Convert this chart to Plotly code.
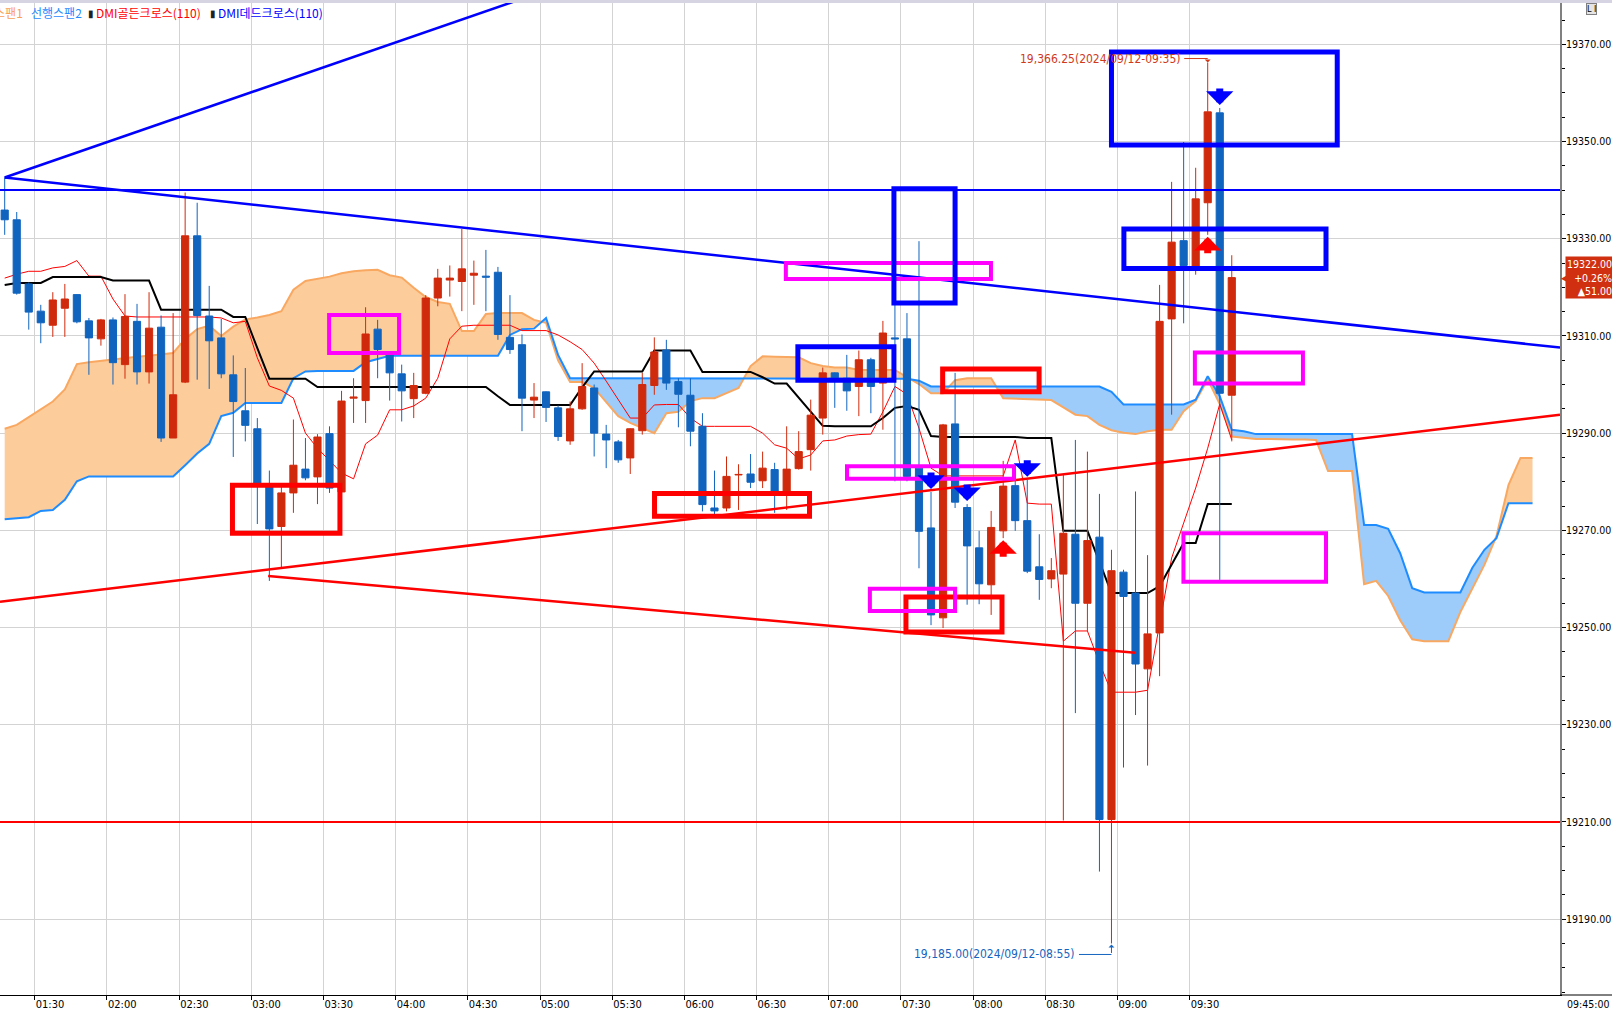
import numpy as np
import pandas as pd
import plotly.graph_objects as go

DAY = "2024-09-12"
FIRST_BAR = "01:15"
BAR_MIN = 5

# ---------------- data ----------------
opens = [19335.9, 19333.9, 19320.7, 19315.1, 19312.2, 19315.7, 19318.5, 19313.1, 19309.4, 19313.3,
         19304.1, 19313.0, 19302.6, 19311.8, 19289.0, 19300.5, 19330.6, 19314.1, 19309.6, 19302.0,
         19294.6, 19290.9, 19279.0, 19270.8, 19277.7, 19282.6, 19281.0, 19289.9, 19277.9, 19297.2,
         19296.7, 19311.4, 19306.5, 19302.2, 19297.1, 19298.2, 19317.8, 19321.5, 19321.2, 19322.5,
         19322.3, 19323.1, 19309.7, 19308.2, 19296.8, 19298.5, 19295.2, 19288.4, 19295.0, 19299.3,
         19289.8, 19288.2, 19284.9, 19290.5, 19299.8, 19307.1, 19300.6, 19297.8, 19291.4, 19274.6,
         19274.6, 19281.4, 19281.6, 19280.2, 19282.5, 19278.0, 19282.7, 19286.6, 19293.1, 19302.4,
         19301.3, 19299.6, 19305.1, 19300.3, 19309.6, 19309.4, 19282.8, 19270.5, 19252.0, 19291.9,
         19274.7, 19266.4, 19258.8, 19269.9, 19279.2, 19272.0, 19262.5, 19260.0, 19261.0, 19269.2,
         19255.0, 19268.6, 19210.5, 19261.4, 19257.1, 19241.5, 19248.9, 19313.5, 19329.6, 19324.1,
         19337.4, 19355.9, 19297.8]
highs = [19342.6, 19335.5, 19321.0, 19316.4, 19319.0, 19320.7, 19318.6, 19313.7, 19313.5, 19313.8,
         19318.6, 19316.6, 19319.0, 19314.2, 19314.7, 19339.5, 19337.4, 19320.3, 19313.5, 19306.0,
         19303.4, 19293.1, 19282.3, 19279.0, 19292.8, 19289.0, 19289.8, 19291.4, 19298.7, 19301.3,
         19315.9, 19313.3, 19306.6, 19304.1, 19302.4, 19318.4, 19323.8, 19324.5, 19332.0, 19325.5,
         19327.7, 19324.2, 19318.4, 19310.3, 19300.3, 19298.6, 19295.7, 19296.5, 19304.4, 19300.0,
         19291.7, 19288.6, 19291.0, 19302.4, 19309.7, 19309.2, 19301.3, 19301.3, 19294.1, 19282.3,
         19285.2, 19283.6, 19285.7, 19286.2, 19283.9, 19291.4, 19290.4, 19296.9, 19303.5, 19302.5,
         19306.1, 19307.0, 19305.5, 19313.1, 19316.4, 19314.7, 19329.5, 19277.9, 19291.9, 19302.4,
         19275.4, 19269.9, 19274.0, 19284.3, 19280.8, 19280.4, 19269.2, 19264.3, 19281.4, 19288.6,
         19286.2, 19277.5, 19266.0, 19261.9, 19278.0, 19264.9, 19320.5, 19341.7, 19349.9, 19344.6,
         19366.25, 19356.9, 19326.6]
lows = [19330.8, 19318.5, 19311.3, 19308.5, 19309.8, 19309.8, 19312.6, 19302.0, 19308.0, 19300.0,
        19301.2, 19300.0, 19300.2, 19288.2, 19289.0, 19300.3, 19301.0, 19299.1, 19301.3, 19285.1,
        19288.3, 19271.3, 19259.6, 19262.2, 19273.6, 19280.3, 19275.4, 19277.7, 19277.7, 19292.1,
        19292.1, 19301.3, 19296.7, 19292.4, 19293.1, 19298.0, 19316.1, 19318.1, 19315.1, 19316.4,
        19315.1, 19309.2, 19306.3, 19290.4, 19293.1, 19292.3, 19288.4, 19287.6, 19294.8, 19285.2,
        19282.8, 19283.9, 19281.6, 19289.7, 19297.9, 19298.9, 19291.2, 19287.3, 19273.9, 19273.2,
        19273.9, 19274.2, 19278.7, 19278.7, 19273.6, 19274.2, 19282.5, 19282.3, 19289.7, 19295.2,
        19294.6, 19293.5, 19294.1, 19290.7, 19280.1, 19280.1, 19262.2, 19250.5, 19249.9, 19274.6,
        19254.7, 19254.8, 19252.6, 19268.4, 19269.9, 19261.2, 19255.7, 19258.1, 19210.3, 19232.4,
        19249.3, 19199.8, 19185.0, 19221.2, 19232.0, 19221.6, 19240.0, 19293.8, 19312.6, 19322.6,
        19330.8, 19259.8, 19288.3]
closes = [19333.9, 19318.8, 19314.9, 19312.7, 19317.4, 19317.6, 19312.9, 19309.6, 19313.3, 19304.5,
          19314.0, 19302.6, 19311.6, 19289.0, 19297.9, 19330.6, 19314.2, 19309.0, 19302.2, 19296.5,
          19291.6, 19279.7, 19270.3, 19277.7, 19283.4, 19280.8, 19289.2, 19278.7, 19296.6, 19297.4,
          19310.4, 19307.2, 19302.4, 19298.7, 19299.8, 19317.8, 19321.9, 19321.9, 19323.8, 19322.9,
          19322.1, 19310.3, 19307.2, 19297.2, 19297.4, 19295.3, 19289.3, 19295.0, 19299.6, 19290.0,
          19288.6, 19284.5, 19290.9, 19300.0, 19306.7, 19300.3, 19298.0, 19290.4, 19275.3, 19274.0,
          19281.1, 19281.5, 19279.9, 19282.8, 19278.0, 19282.6, 19286.2, 19293.7, 19302.4, 19300.7,
          19298.7, 19305.1, 19299.6, 19310.6, 19309.4, 19281.1, 19269.8, 19252.6, 19291.7, 19275.8,
          19266.8, 19259.0, 19270.6, 19279.1, 19272.0, 19261.6, 19259.9, 19261.7, 19269.4, 19255.0,
          19267.9, 19210.5, 19261.7, 19256.4, 19242.5, 19248.7, 19313.0, 19329.3, 19324.5, 19338.2,
          19356.1, 19298.2, 19322.0]

tenkan = [19321.9, 19322.7, 19323.3, 19323.3, 19324.0, 19324.3, 19325.5, 19322.3, 19322.3, 19317.6,
          19314.1, 19313.9, 19313.9, 19313.9, 19313.9, 19313.9, 19313.9, 19313.9, 19313.7, 19312.7,
          19313.0, 19305.5, 19299.7, 19298.8, 19297.2, 19290.0, 19286.9, 19284.3, 19281.8, 19280.6,
          19287.8, 19289.6, 19294.8, 19294.8, 19295.6, 19297.2, 19301.3, 19309.4, 19312.0, 19312.2,
          19312.2, 19312.2, 19312.2, 19311.1, 19311.1, 19311.1, 19310.2, 19308.8, 19307.2, 19304.4,
          19300.7, 19297.0, 19293.1, 19293.1, 19295.8, 19295.9, 19295.9, 19293.1, 19291.4, 19291.4,
          19291.4, 19291.4, 19291.4, 19290.0, 19287.6, 19286.9, 19284.7, 19285.5, 19288.4, 19288.6,
          19289.4, 19289.7, 19289.8, 19294.4, 19299.6, 19298.0, 19291.0, 19282.8, 19281.2, 19281.2,
          19281.2, 19281.2, 19281.2, 19281.2, 19288.6, 19275.6, 19275.4, 19275.4, 19247.2, 19249.3,
          19249.3, 19242.7, 19236.7, 19236.7, 19236.7, 19237.1, 19251.0, 19264.3, 19271.5, 19278.7,
          19286.9, 19296.0, 19288.6]
kijun = [19320.5, 19320.9, 19320.9, 19320.9, 19322.1, 19322.1, 19322.1, 19322.1, 19322.1, 19321.4,
         19321.4, 19321.4, 19321.4, 19315.4, 19315.4, 19315.4, 19315.4, 19315.4, 19315.4, 19313.9,
         19313.9, 19307.5, 19301.2, 19301.2, 19301.2, 19301.2, 19299.5, 19299.5, 19299.5, 19299.5,
         19299.5, 19299.5, 19299.5, 19299.5, 19299.5, 19299.5, 19299.5, 19299.5, 19299.5, 19299.5,
         19299.5, 19297.6, 19295.8, 19295.8, 19295.8, 19295.8, 19295.8, 19295.8, 19299.4, 19302.7,
         19302.7, 19302.7, 19302.7, 19302.7, 19307.0, 19307.0, 19307.0, 19307.0, 19302.6, 19302.6,
         19302.6, 19302.6, 19302.6, 19301.5, 19300.2, 19300.2, 19297.3, 19294.4, 19291.5, 19291.4,
         19291.4, 19291.4, 19291.4, 19293.1, 19295.2, 19295.6, 19294.8, 19289.4, 19289.2, 19289.2,
         19289.2, 19289.2, 19289.2, 19289.2, 19289.2, 19289.0, 19289.0, 19289.0, 19269.9, 19269.9,
         19269.9, 19263.5, 19257.1, 19257.1, 19257.1, 19257.1, 19258.5, 19263.1, 19267.4, 19267.4,
         19275.4, 19275.4, 19275.4]
span1 = [19290.9, 19291.7, 19293.3, 19294.9, 19296.5, 19299.0, 19304.2, 19304.6, 19304.9, 19305.1,
         19305.5, 19305.7, 19305.9, 19306.2, 19306.5, 19309.4, 19311.4, 19312.1, 19310.0, 19311.9,
         19313.4, 19313.8, 19314.3, 19315.1, 19319.5, 19321.3, 19321.8, 19322.2, 19322.9, 19323.3,
         19323.5, 19323.6, 19322.5, 19322.0, 19319.9, 19318.0, 19317.0, 19316.6, 19311.0, 19311.0,
         19314.5, 19314.7, 19314.7, 19314.7, 19313.3, 19312.7, 19305.0, 19300.5, 19300.5, 19299.3,
         19296.4, 19293.5, 19292.1, 19291.0, 19290.0, 19294.1, 19294.4, 19296.6, 19297.2, 19297.2,
         19298.2, 19299.3, 19303.8, 19305.8, 19305.7, 19305.7, 19305.6, 19304.4, 19303.8, 19303.5,
         19303.5, 19303.0, 19303.0, 19303.0, 19303.0, 19301.5, 19300.1, 19298.2, 19298.2, 19300.9,
         19301.3, 19301.3, 19301.3, 19297.2, 19297.1, 19297.0, 19296.9, 19296.8, 19295.3, 19293.8,
         19293.5, 19291.7, 19290.6, 19290.1, 19289.8, 19290.4, 19290.7, 19290.7, 19294.5, 19296.6,
         19301.1, 19296.0, 19289.3, 19289.0, 19288.8, 19288.8, 19288.7, 19288.7, 19288.7, 19288.6,
         19282.2, 19282.2, 19282.2, 19258.9, 19259.6, 19256.5, 19251.5, 19247.6, 19247.2, 19247.2,
         19247.2, 19253.2, 19258.1, 19262.9, 19268.8, 19279.3, 19284.9, 19284.9]
span2 = [19272.3, 19272.5, 19272.7, 19274.0, 19274.2, 19276.3, 19280.1, 19281.1, 19281.1, 19281.1,
         19281.1, 19281.1, 19281.1, 19281.1, 19281.1, 19283.4, 19285.8, 19287.8, 19293.5, 19294.2,
         19296.2, 19296.2, 19296.2, 19296.2, 19301.3, 19302.7, 19302.8, 19302.8, 19302.8, 19302.8,
         19304.6, 19305.2, 19305.9, 19305.9, 19305.9, 19305.9, 19305.9, 19305.9, 19305.9, 19305.9,
         19305.9, 19305.9, 19310.2, 19311.4, 19311.5, 19313.7, 19306.1, 19301.3, 19301.3, 19301.3,
         19301.3, 19301.3, 19301.3, 19301.3, 19301.3, 19301.3, 19301.3, 19301.3, 19301.3, 19301.3,
         19301.3, 19301.3, 19301.3, 19301.3, 19301.3, 19301.3, 19301.3, 19301.3, 19301.3, 19301.3,
         19301.3, 19301.3, 19301.3, 19301.3, 19301.3, 19301.2, 19300.8, 19299.6, 19299.6, 19299.6,
         19299.6, 19299.6, 19299.6, 19299.6, 19299.6, 19299.6, 19299.6, 19299.6, 19299.6, 19299.6,
         19299.6, 19299.6, 19298.5, 19295.9, 19295.9, 19295.9, 19295.9, 19295.9, 19295.9, 19296.9,
         19301.7, 19297.6, 19290.7, 19290.4, 19289.8, 19289.8, 19289.8, 19289.8, 19289.8, 19289.8,
         19289.8, 19289.8, 19289.8, 19271.1, 19271.1, 19270.3, 19265.3, 19258.1, 19257.2, 19257.2,
         19257.2, 19257.2, 19262.3, 19266.0, 19268.4, 19275.6, 19275.6, 19275.6]

x_tick_labels = ["01:30", "02:00", "02:30", "03:00", "03:30", "04:00", "04:30", "05:00", "05:30",
                 "06:00", "06:30", "07:00", "07:30", "08:00", "08:30", "09:00", "09:30"]
x_view = ["01:15:33", "12:03:55"]
y_view = [19174.4, 19378.5]

hline_prices = [19340, 19210]
hline_colors = ["#0000FF", "#FF0000"]

trend_t0 = ["01:17:30", "01:17:30", "01:15:33", "03:07:00"]
trend_p0 = [19342.6, 19342.6, 19255.3, 19260.6]
trend_t1 = ["04:49:10", "12:03:55", "12:03:55", "09:07:20"]
trend_p1 = [19378.8, 19307.6, 19293.8, 19244.8]
trend_colors = ["#0000FF", "#0000FF", "#FF0000", "#FF0000"]

box_t0 = ["02:52:10", "05:47:35", "07:47:20", "07:32:05",
          "03:32:20", "06:42:10", "07:07:35", "07:17:05", "09:32:10", "09:27:25",
          "07:27:05", "06:47:10", "08:57:30", "09:02:40"]
box_t1 = ["03:36:50", "06:52:00", "08:27:25", "08:12:00",
          "04:01:25", "08:07:25", "08:17:00", "07:52:30", "10:17:05", "10:26:40",
          "07:52:30", "07:27:05", "10:31:20", "10:26:40"]
box_top = [19279.3, 19277.6, 19303.2, 19256.3,
           19314.3, 19325.0, 19283.2, 19258.0, 19306.6, 19269.4,
           19340.3, 19307.8, 19368.4, 19332.0]
box_bottom = [19269.4, 19272.9, 19298.5, 19249.1,
              19306.5, 19321.7, 19280.6, 19253.4, 19300.2, 19259.4,
              19316.8, 19300.9, 19349.3, 19323.9]
box_colors = ["#FF0000"] * 4 + ["#FF00FF"] * 6 + ["#0000FF"] * 4
box_widths = [5] * 4 + [4] * 6 + [5] * 4

golden_cross_bars = ["08:10", "09:35"]
dead_cross_bars = ["07:40", "07:55", "08:20", "09:40"]

prev_change = 51.00
prev_change_pct = 0.26

# ---------------- build ----------------
n = len(opens)
bar_start = pd.date_range(f"{DAY} {FIRST_BAR}", periods=len(span1), freq=f"{BAR_MIN}min")
centers = bar_start + pd.Timedelta(minutes=BAR_MIN / 2)
bar_lookup = {t.strftime("%H:%M"): i for i, t in enumerate(bar_start)}


def ts(hms):
    return pd.Timestamp(f"{DAY} {hms}")


def with_crossings(xs, a, b):
    X, A, B = [xs[0]], [a[0]], [b[0]]
    for i in range(len(xs) - 1):
        d0, d1 = a[i] - b[i], a[i + 1] - b[i + 1]
        if d0 * d1 < 0:
            f = d0 / (d0 - d1)
            X.append(xs[i] + f * (xs[i + 1] - xs[i]))
            yc = a[i] + f * (a[i + 1] - a[i])
            A.append(yc)
            B.append(yc)
        X.append(xs[i + 1]); A.append(a[i + 1]); B.append(b[i + 1])
    return np.array(X), np.array(A), np.array(B)


xs_num = centers.asi8.astype(float)
Xc, Ac, Bc = with_crossings(xs_num, np.array(span1), np.array(span2))
Xd = pd.to_datetime(Xc.astype(np.int64))
top = np.maximum(Ac, Bc)

fig = go.Figure()
nol = dict(width=0)
fig.add_trace(go.Scatter(x=Xd, y=Bc, mode="lines", line=nol, hoverinfo="skip"))
fig.add_trace(go.Scatter(x=Xd, y=top, mode="lines", line=nol, fill="tonexty",
                         fillcolor="#FDCC9B", hoverinfo="skip"))
fig.add_trace(go.Scatter(x=Xd, y=Ac, mode="lines", line=nol, hoverinfo="skip"))
fig.add_trace(go.Scatter(x=Xd, y=top, mode="lines", line=nol, fill="tonexty",
                         fillcolor="#9DCCFA", hoverinfo="skip"))
fig.add_trace(go.Scatter(x=centers, y=span1, mode="lines", line=dict(color="#F9A862", width=2)))
fig.add_trace(go.Scatter(x=centers, y=span2, mode="lines", line=dict(color="#1E8CFF", width=2)))
fig.add_trace(go.Scatter(x=centers[:n], y=tenkan, mode="lines", line=dict(color="#FF0000", width=1)))
fig.add_trace(go.Scatter(x=centers[:n], y=kijun, mode="lines", line=dict(color="#000000", width=2)))

fig.add_trace(go.Candlestick(
    x=centers[:n], open=opens, high=highs, low=lows, close=closes,
    increasing=dict(line=dict(color="#D02A0C", width=1), fillcolor="#D02A0C"),
    decreasing=dict(line=dict(color="#1064BE", width=1), fillcolor="#1064BE"),
    whiskerwidth=0, xaxis="x2", yaxis="y2", hoverinfo="skip"))

shapes = []
for p, c in zip(hline_prices, hline_colors):
    shapes.append(dict(type="line", xref="paper", yref="y", x0=0, x1=1, y0=p, y1=p,
                       line=dict(color=c, width=2), layer="above"))
for t0, p0, t1, p1, c in zip(trend_t0, trend_p0, trend_t1, trend_p1, trend_colors):
    shapes.append(dict(type="line", xref="x", yref="y", x0=ts(t0), y0=p0, x1=ts(t1), y1=p1,
                       line=dict(color=c, width=2.5), layer="above"))
for t0, t1, a, b, c, w in zip(box_t0, box_t1, box_top, box_bottom, box_colors, box_widths):
    shapes.append(dict(type="rect", xref="x", yref="y", x0=ts(t0), x1=ts(t1), y0=b, y1=a,
                       line=dict(color=c, width=w), fillcolor="rgba(0,0,0,0)", layer="above"))
# top band and bottom axis extension
shapes.append(dict(type="rect", xref="paper", yref="paper", x0=0, x1=1 + 52 / 1560,
                   y0=1, y1=1 + 3 / 992, fillcolor="#D6D3E3", line=dict(width=0)))
shapes.append(dict(type="line", xref="paper", yref="paper", x0=1, x1=1 + 52 / 1560,
                   y0=0, y1=0, line=dict(color="#000000", width=1)))

ann = []
# DMI signals
for b in dead_cross_bars:
    i = bar_lookup[b]
    ann.append(dict(x=centers[i], y=highs[i], xref="x", yref="y", text="", showarrow=True,
                    ax=0, ay=-18, arrowhead=1, arrowsize=0.65, arrowwidth=7,
                    arrowcolor="#0000FF", yshift=3, standoff=0))
for b in golden_cross_bars:
    i = bar_lookup[b]
    ann.append(dict(x=centers[i], y=lows[i], xref="x", yref="y", text="", showarrow=True,
                    ax=0, ay=18, arrowhead=1, arrowsize=0.65, arrowwidth=7,
                    arrowcolor="#FF0000", yshift=-2, standoff=0))

mono = "Liberation Sans Narrow, DejaVu Sans Condensed, Arial Narrow, sans-serif"
ih = int(np.argmax(highs))
il = int(np.argmin(lows))
datefmt = DAY.replace("-", "/")
hi_txt = f"{highs[ih]:,.2f}({datefmt}-{bar_start[ih]:%H:%M})"
lo_txt = f"{lows[il]:,.2f}({datefmt}-{bar_start[il]:%H:%M})"
ann.append(dict(x=centers[ih], y=highs[ih], text=hi_txt, showarrow=False, xanchor="right",
                yanchor="middle", xshift=-25, yshift=4, font=dict(color="#D03A1A", size=12, family=mono)))
ann.append(dict(x=centers[ih], y=highs[ih], text="", showarrow=True, ax=-25, ay=0, arrowhead=0,
                arrowwidth=1, arrowcolor="#D03A1A", yshift=4, standoff=0))
ann.append(dict(x=centers[ih], y=highs[ih], text="", showarrow=True, ax=0, ay=-4, arrowhead=1,
                arrowsize=1, arrowwidth=1, arrowcolor="#D03A1A", standoff=0))
ann.append(dict(x=centers[il], y=lows[il], text=lo_txt, showarrow=False, xanchor="right",
                yanchor="middle", xshift=-34, yshift=-11, font=dict(color="#1565C0", size=12, family=mono)))
ann.append(dict(x=centers[il], y=lows[il], text="", showarrow=True, ax=-34, ay=0, arrowhead=0,
                arrowwidth=1, arrowcolor="#1565C0", yshift=-11, standoff=0))
ann.append(dict(x=centers[il], y=lows[il], text="", showarrow=True, ax=0, ay=10, arrowhead=1,
                arrowsize=1, arrowwidth=1, arrowcolor="#1565C0", yshift=-1, standoff=0))

# price tag
ann.append(dict(xref="paper", yref="y", x=1, y=closes[-1], xanchor="left", yanchor="middle",
                xshift=5, text=f"{closes[-1]:.2f}<br>+{prev_change_pct:.2f}%<br>▲{prev_change:.2f}",
                showarrow=False, align="right", bgcolor="#D03010", borderpad=1,
                font=dict(color="white", size=10.5, family=mono)))
ann.append(dict(xref="paper", yref="y", x=1, y=closes[-1], xanchor="left", yanchor="middle",
                xshift=-1, text="◀", showarrow=False, font=dict(color="#D03010", size=9)))
# bottom-right time
ann.append(dict(xref="paper", yref="paper", x=1, y=0, xanchor="left", yanchor="top", xshift=5,
                yshift=-1, text=f"{bar_start[n - 1]:%H:%M:%S}", showarrow=False,
                font=dict(color="#000000", size=10.5, family=mono)))
# legend line
kr = "Noto Sans CJK KR, sans-serif"
yl = 1 - (12.3 - 3) / 992
ann.append(dict(xref="paper", yref="paper", x=25 / 1560, y=yl, xanchor="right", yanchor="middle",
                text="선행스팬1", showarrow=False, font=dict(color="#F9A055", size=12, family=kr)))
ann.append(dict(xref="paper", yref="paper", x=29 / 1560, y=yl, xanchor="left", yanchor="middle",
                text="선행스팬2", showarrow=False, font=dict(color="#1E8CFF", size=12, family=kr)))
ann.append(dict(xref="paper", yref="paper", x=86 / 1560, y=yl, xanchor="left", yanchor="middle",
                text="▮", showarrow=False, font=dict(color="#202020", size=10, family=kr)))
ann.append(dict(xref="paper", yref="paper", x=94 / 1560, y=yl, xanchor="left", yanchor="middle",
                text="DMI골든크로스(110)", showarrow=False, font=dict(color="#FF0000", size=12, family=kr)))
ann.append(dict(xref="paper", yref="paper", x=208 / 1560, y=yl, xanchor="left", yanchor="middle",
                text="▮", showarrow=False, font=dict(color="#202020", size=10, family=kr)))
ann.append(dict(xref="paper", yref="paper", x=216 / 1560, y=yl, xanchor="left", yanchor="middle",
                text="DMI데드크로스(110)", showarrow=False, font=dict(color="#0000FF", size=12, family=kr)))
ann.append(dict(xref="paper", yref="paper", x=1 + 26 / 1560, y=1 - 6 / 992, xanchor="left", yanchor="middle",
                text="L I", showarrow=False, bgcolor="#E4E4E4", bordercolor="#808080", borderwidth=1,
                borderpad=0, font=dict(color="#000000", size=9, family=mono)))

xr = [ts(x_view[0]), ts(x_view[1])]
fig.update_layout(
    width=1612, height=1010,
    margin=dict(l=0, r=52, t=3, b=15, autoexpand=False),
    paper_bgcolor="white", plot_bgcolor="white",
    showlegend=False, hovermode=False,
    boxgap=0.15,
    font=dict(family=mono, size=12, color="#000000"),
    xaxis=dict(type="date", range=xr, tickvals=[ts(s) for s in x_tick_labels], ticktext=x_tick_labels,
               showgrid=True, gridcolor="#D3D3D3", gridwidth=1, showline=True, linecolor="#000000",
               linewidth=1, ticks="outside", ticklen=4, tickcolor="#000000", automargin=False,
               ticklabelposition="outside right", tickfont=dict(size=11, family=mono),
               ticklabelstandoff=-1, zeroline=False, rangeslider=dict(visible=False)),
    xaxis2=dict(type="date", range=xr, overlaying="x", visible=False, rangeslider=dict(visible=False)),
    yaxis=dict(range=y_view, side="right", dtick=20, tick0=19190, tickformat=".2f", automargin=False,
               showgrid=True, gridcolor="#D3D3D3", gridwidth=1, showline=True, linecolor="#808080",
               linewidth=2, ticks="outside", ticklen=4, tickcolor="#000000", zeroline=False,
               tickfont=dict(size=10.5, family=mono), ticklabelstandoff=-2,
               minor=dict(dtick=5, tick0=19190, ticks="outside", ticklen=3, tickcolor="#000000",
                          showgrid=False)),
    yaxis2=dict(range=y_view, overlaying="y", side="right", visible=False),
    shapes=shapes, annotations=ann,
)
fig.write_html("out.html", config={"displayModeBar": False},
               post_script="document.body.style.margin='0';document.body.style.overflow='hidden';")
